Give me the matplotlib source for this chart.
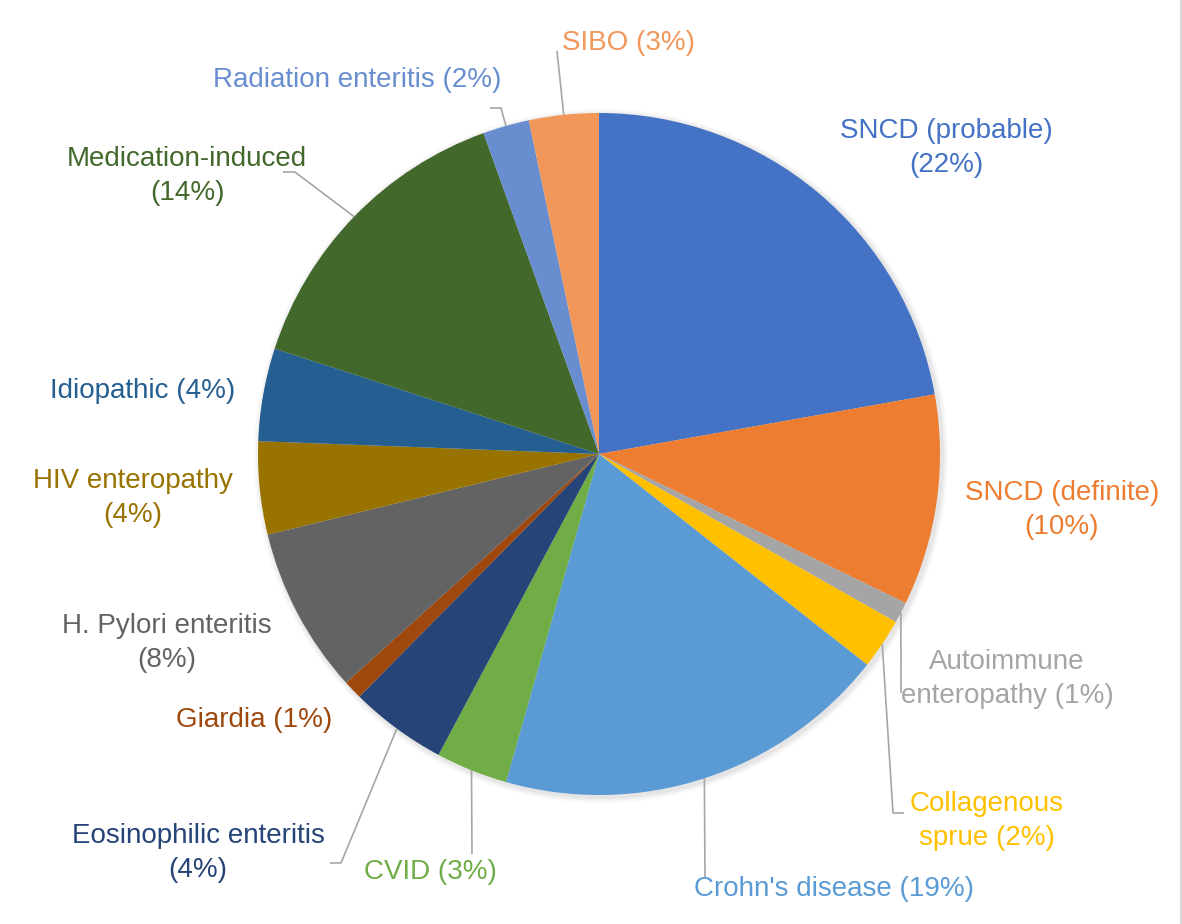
import matplotlib
matplotlib.use("Agg")
import matplotlib.pyplot as plt
from matplotlib.patches import Rectangle, Circle
import numpy as np

# ---- data ----
categories = ["SNCD (probable)", "SNCD (definite)", "Autoimmune enteropathy",
              "Collagenous sprue", "Crohn's disease", "CVID",
              "Eosinophilic enteritis", "Giardia", "H. Pylori enteritis",
              "HIV enteropathy", "Idiopathic", "Medication-induced",
              "Radiation enteritis", "SIBO"]
values = [22.2, 10.0, 1.0, 2.4, 18.8, 3.4, 4.6, 0.9, 7.9, 4.4, 4.4, 14.5, 2.2, 3.3]
pct_labels = ["22%", "10%", "1%", "2%", "19%", "3%", "4%", "1%", "8%", "4%", "4%", "14%", "2%", "3%"]
label_texts = ["SNCD (probable)\n(22%)", "SNCD (definite)\n(10%)", "Autoimmune\nenteropathy (1%)",
               "Collagenous\nsprue (2%)", "Crohn's disease (19%)", "CVID (3%)",
               "Eosinophilic enteritis\n(4%)", "Giardia (1%)", "H. Pylori enteritis\n(8%)",
               "HIV enteropathy\n(4%)", "Idiopathic (4%)", "Medication-induced\n(14%)",
               "Radiation enteritis (2%)", "SIBO (3%)"]
colors = ["#4472C4", "#ED7D31", "#A5A5A5", "#FFC000", "#5B9BD5", "#70AD47",
          "#264478", "#9E480E", "#636363", "#997300", "#255E91", "#43682B",
          "#698ED0", "#F1975A"]

# ---- layout (pixel space, y measured from top) ----
W, H = 1182, 924
CX, CY, R = 599, 454, 341
label_pos = [(946, 148), (1062, 510), (1007, 679), (987, 821), (834, 889), (430, 872),
             (198, 853), (254, 720), (167, 643), (133, 498), (143, 391), (187, 176),
             (357, 80), (628, 43)]
# leader line path (after the wedge edge point); None = no leader
leaders = [None, None, [(901, 693)], [(893, 813), (904, 813)], [(705, 878)], [(472, 854)],
           [(341, 863), (330, 863)], None, None, None, None, [(295, 172), (283, 172)],
           [(501, 108), (490, 108)], [(557, 51)]]

def fy(y):
    return H - y

fig = plt.figure(figsize=(W / 100, H / 100), dpi=100)
ax = fig.add_axes([0, 0, 1, 1])

# subtle shadow
for k, a in [(6, 0.025), (4, 0.035), (2, 0.045)]:
    ax.add_patch(Circle((CX + 2, fy(CY) - 2), R + k, color="black", alpha=a, lw=0, zorder=0))

wedges, _ = ax.pie(values, colors=colors, startangle=90, counterclock=False,
                   center=(CX, fy(CY)), radius=R,
                   wedgeprops=dict(linewidth=0))
for w in wedges:
    w.set_zorder(2)
    w.set_antialiased(True)

ax.set_xlim(0, W)
ax.set_ylim(0, H)
ax.set_aspect("equal")
ax.axis("off")

font = ["Liberation Sans", "DejaVu Sans"]
for i, (txt, (lx, ly)) in enumerate(zip(label_texts, label_pos)):
    ax.text(lx, fy(ly), txt, ha="center", va="center", fontsize=20,
            color=colors[i], family=font, linespacing=1.36, zorder=5)
    if leaders[i] is not None:
        w = wedges[i]
        mid = np.deg2rad((w.theta1 + w.theta2) / 2)
        sx, sy = CX + R * np.cos(mid), fy(CY) + R * np.sin(mid)
        xs = [sx] + [p[0] for p in leaders[i]]
        ys = [sy] + [fy(p[1]) for p in leaders[i]]
        ax.plot(xs, ys, color="#A6A6A6", lw=1.2, zorder=3, solid_capstyle="butt")

fig.patches.append(Rectangle((1180 / W, 0), 2 / W, 1, transform=fig.transFigure,
                             color="#D9D9D9", zorder=10))

fig.savefig("out.png", dpi=100, facecolor="white")
